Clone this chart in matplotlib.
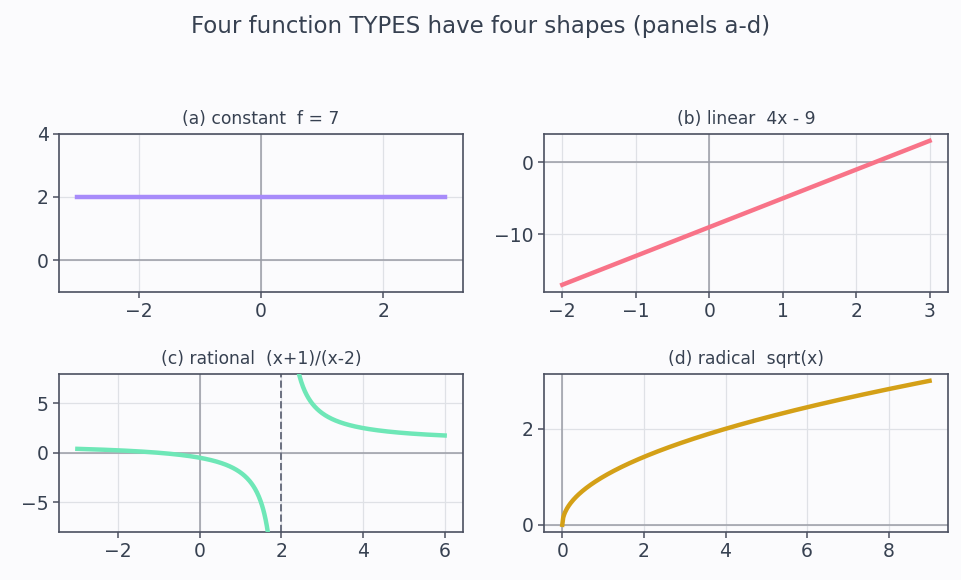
import matplotlib
matplotlib.use("Agg")
import matplotlib.pyplot as plt
import numpy as np

# panel titles
titles = ["(a) constant  f = 7", "(b) linear  4x - 9",
          "(c) rational  (x+1)/(x-2)", "(d) radical  sqrt(x)"]
colors = ["#a78bfa", "#f87388", "#6ee7b7", "#d4a017"]

# function parameters (as drawn)
const_value = 2.0
lin_slope, lin_icpt = 4.0, -9.0
rat_num, rat_den = 1.0, -2.0      # (x + 1) / (x - 2)
asymptote = 2.0

# x ranges
x_a = np.linspace(-3, 3, 200)
x_b = np.linspace(-2, 3, 200)
x_c = np.linspace(-3, 6, 600)
x_d = np.linspace(0, 9, 400)

# tick positions per panel
xticks = [[-2, 0, 2], [-2, -1, 0, 1, 2, 3], [-2, 0, 2, 4, 6], [0, 2, 4, 6, 8]]
yticks = [[0, 2, 4], [-10, 0], [-5, 0, 5], [0, 2]]

y_a = np.full_like(x_a, const_value)
y_b = lin_slope * x_b + lin_icpt
y_c = (x_c + rat_num) / (x_c + rat_den)
y_c[np.abs(x_c - asymptote) < 0.05] = np.nan
y_d = np.sqrt(x_d)

text_c = "#374151"
spine_c = "#4b5060"
bg = "#fbfbfd"

plt.rcParams["font.family"] = "DejaVu Sans"
fig = plt.figure(figsize=(9.61, 5.8), dpi=100, facecolor=bg)

L1, L2, W = 0.0614, 0.566, 0.4204
B1, B2, H = 0.4966, 0.0828, 0.273
boxes = [[L1, B1, W, H], [L2, B1, W, H], [L1, B2, W, H], [L2, B2, W, H]]
xs = [x_a, x_b, x_c, x_d]
ys = [y_a, y_b, y_c, y_d]

axes = []
for i in range(4):
    ax = fig.add_axes(boxes[i])
    ax.set_facecolor(bg)
    ax.grid(True, color="#dfe1e6", lw=0.9)
    ax.set_axisbelow(True)
    ax.axhline(0, color="#9a9ca6", lw=1.1, zorder=1)
    ax.axvline(0, color="#9a9ca6", lw=1.1, zorder=1)
    ax.plot(xs[i], ys[i], color=colors[i], lw=3.2, zorder=3)
    ax.set_xticks(xticks[i])
    ax.set_yticks(yticks[i])
    ax.set_title(titles[i], fontsize=12.3, color=text_c, pad=7)
    for s in ax.spines.values():
        s.set_color(spine_c)
        s.set_linewidth(1.2)
    ax.tick_params(colors=spine_c, labelcolor=text_c, labelsize=13.5,
                   length=4, width=1.1)
    axes.append(ax)

axes[0].set_ylim(-1, 4)
axes[2].set_ylim(-8, 8)
axes[2].axvline(asymptote, color="#6b7080", lw=1.4, ls="--", zorder=2)

fig.suptitle("Four function TYPES have four shapes (panels a-d)",
             fontsize=16.5, color=text_c, y=0.975)

fig.savefig("out.png", dpi=100, facecolor=bg)
